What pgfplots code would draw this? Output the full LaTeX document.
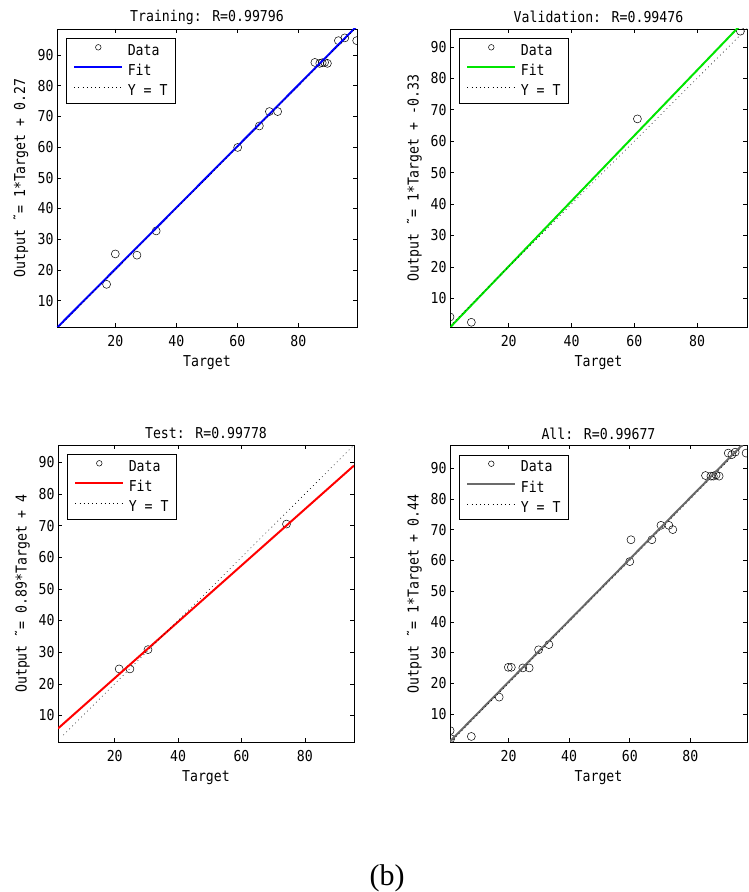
\documentclass[border=0pt]{standalone}
\usepackage{fontspec}
\usepackage{pgfplots}
\pgfplotsset{compat=1.18}
\newfontfamily\mfont{DejaVu Sans Mono}[FakeStretch=0.88]
\newfontfamily\serif{Liberation Serif}
\definecolor{mgreen}{rgb}{0,0.9,0}
\definecolor{mgray}{rgb}{0.42,0.42,0.42}
\newcommand{\mf}{\mfont\fontsize{15}{17}\selectfont}
\pgfplotsset{
  every axis title shift=0pt,
  mat/.style={
    scale only axis,
    xtick={20,40,60,80}, ytick={10,20,...,90},
    tick align=inside, major tick length=4pt,
    tick style={black, line width=0.6pt},
    axis line style={black, line width=0.8pt},
    /pgf/number format/assume math mode=true,
    ticklabel style={font=\mf},
    xticklabel style={yshift=-5pt},
    xlabel={Target},
    xlabel style={font=\mf, at={(axis description cs:0.5,-0.12)}, anchor=center},
    ylabel style={font=\mf, at={(axis description cs:-0.12,0.5)}, anchor=center},
    title style={font=\mf, at={(axis description cs:0.5,1.04)}, anchor=center},
    clip marker paths=true,
    legend cell align=left,
    legend style={at={(axis description cs:0,1)}, anchor=north west,
      xshift=9pt, yshift=-9.3pt, draw=black, line width=0.6pt,
      font=\mf, inner xsep=7pt, inner ysep=5.5pt, row sep=6.5pt, column sep=4pt,
      nodes={inner sep=0.5pt}},
  },
  dat/.style={only marks, mark=o, mark size=4pt, black, mark options={line width=0.5pt},
    legend image code/.code={\draw[black, line width=0.5pt] (24pt,3.5pt) circle (2.8pt);}},
  fitl/.style={line width=2pt, #1,
    legend image code/.code={\draw[##1] (0pt,3.5pt) -- (48pt,3.5pt);}},
  yt/.style={black, line width=0.6pt, dash pattern=on 0.8pt off 3.4pt,
    legend image code/.code={\draw[##1] (0pt,3.5pt) -- (48pt,3.5pt);}},
}
\begin{document}
\begin{tikzpicture}
\useasboundingbox (0,0) rectangle (748pt,892pt);
% Training
\begin{axis}[mat, at={(57pt,565pt)}, anchor=south west, width=300pt, height=298pt,
  xmin=0.9, xmax=99.2, ymin=1.4, ymax=98.5,
  title={Training: R=0.99796},
  ylabel={Output \char"02DC= 1*Target + 0.27}]
\addplot[dat] coordinates {(17.15,15.3) (20,25.2) (27.1,24.8) (33.4,32.7) (60.1,59.9) (67.2,66.9) (70.5,71.6) (73.2,71.6) (85.4,87.6) (87.0,87.3) (87.8,87.5) (88.6,87.6) (89.5,87.3) (93.1,94.7) (95.2,95.6) (99.1,94.7)};
\addplot[fitl={blue}] coordinates {(0.9,1.17) (99.2,99.47)};
\addplot[yt] coordinates {(0.9,0.9) (99.2,99.2)};
\legend{Data,Fit,Y = T}
\end{axis}
% Validation
\begin{axis}[mat, at={(450pt,565pt)}, anchor=south west, width=297pt, height=298pt,
  xmin=1.3, xmax=95.9, ymin=0.9, ymax=95.7,
  title={Validation: R=0.99476},
  ylabel={Output \char"02DC= 1*Target + -0.33}]
\addplot[dat] coordinates {(1.3,4.1) (8.1,2.4) (61.0,67.1) (93.8,95.0)};
\addplot[fitl={mgreen}] coordinates {(1.3,0.75) (95.9,99.1)};
\addplot[yt] coordinates {(1.3,1.3) (95.9,95.9)};
\legend{Data,Fit,Y = T}
\end{axis}
% Test
\begin{axis}[mat, at={(58pt,150pt)}, anchor=south west, width=296pt, height=297pt,
  xmin=2.1, xmax=95.5, ymin=1.6, ymax=95.5,
  title={Test: R=0.99778},
  ylabel={Output \char"02DC= 0.89*Target + 4}]
\addplot[dat] coordinates {(21.4,24.7) (24.8,24.7) (30.5,30.8) (74.2,70.5)};
\addplot[fitl={red}] coordinates {(2.1,5.87) (95.5,89.0)};
\addplot[yt] coordinates {(3.8,3.8) (95.5,95.5)};
\legend{Data,Fit,Y = T}
\end{axis}
% All
\begin{axis}[mat, at={(450pt,150pt)}, anchor=south west, width=297pt, height=296.6pt,
  xmin=0.66, xmax=98.7, ymin=0.9, ymax=97.4,
  title={All: R=0.99677},
  ylabel={Output \char"02DC= 1*Target + 0.44}]
\addplot[dat] coordinates {(0.7,4.6) (0.9,2.0) (7.7,2.7) (16.9,15.5) (19.9,25.2) (20.9,25.2) (24.7,25.0) (26.8,25.0) (29.9,30.9) (33.3,32.6) (60.0,59.6) (60.4,66.7) (67.3,66.7) (70.3,71.4) (72.9,71.4) (74.2,70.0) (85.0,87.6) (86.8,87.4) (87.6,87.4) (88.5,87.8) (89.5,87.4) (92.5,94.9) (93.7,94.4) (94.8,95.2) (98.4,94.9)};
\addplot[fitl={mgray}] coordinates {(0.66,1.1) (98.7,99.14)};
\addplot[yt] coordinates {(0.66,0.66) (98.7,98.7)};
\legend{Data,Fit,Y = T}
\end{axis}
\node[font=\serif\fontsize{30}{32}\selectfont] at (387pt,14pt) {(b)};
\end{tikzpicture}
\end{document}
